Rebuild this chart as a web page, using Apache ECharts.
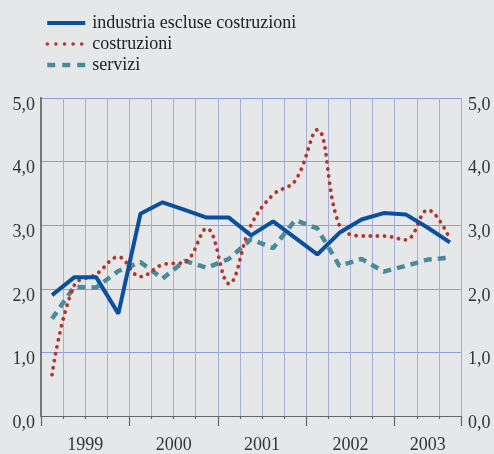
<!DOCTYPE html>
<html>
<head>
<meta charset="utf-8">
<script src="https://cdn.jsdelivr.net/npm/echarts@6/dist/echarts.min.js"></script>
<style>
html,body{margin:0;padding:0;background:#e6e7e8;}
#c{width:494px;height:454px;}
</style>
</head>
<body>
<div id="c"></div>
<script>
// Quarterly data, 1999 Q1 – 2003 Q3
const categories = ['1999 T1','1999 T2','1999 T3','1999 T4','2000 T1','2000 T2','2000 T3','2000 T4','2001 T1','2001 T2','2001 T3','2001 T4','2002 T1','2002 T2','2002 T3','2002 T4','2003 T1','2003 T2','2003 T3'];
const seriesNames = ['industria escluse costruzioni','costruzioni','servizi'];
const industria = [1.90, 2.18, 2.18, 1.61, 3.18, 3.36, 3.24, 3.12, 3.12, 2.84, 3.06, 2.80, 2.54, 2.88, 3.09, 3.19, 3.17, 2.96, 2.73];
const costruzioni = [0.65, 2.05, 2.23, 2.50, 2.19, 2.38, 2.42, 2.95, 2.08, 3.00, 3.48, 3.70, 4.50, 3.00, 2.83, 2.83, 2.77, 3.24, 2.78];
const servizi = [1.53, 2.03, 2.02, 2.28, 2.42, 2.16, 2.44, 2.33, 2.47, 2.78, 2.64, 3.08, 2.95, 2.36, 2.47, 2.27, 2.36, 2.46, 2.49];
const yearLabels = ['1999','2000','2001','2002','2003'];
const yearLabelPos = [2, 6, 10, 14, 17.5];

const FONT = '"Liberation Serif", "Times New Roman", serif';
const fmtY = v => v.toFixed(1).replace('.', ',');

const chart = echarts.init(document.getElementById('c'), null, {renderer: 'canvas'});
const hideSym = {opacity: 0, borderWidth: 0, color: 'rgba(0,0,0,0)', borderColor: 'rgba(0,0,0,0)'};
const option = {
  backgroundColor: '#e6e7e8',
  animation: false,
  legend: {
    orient: 'vertical',
    left: 40,
    top: 9,
    itemWidth: 38,
    itemHeight: 14,
    itemGap: 3,
    textStyle: {fontFamily: FONT, fontSize: 18, lineHeight: 18, color: '#222', padding: [0, 0, 0, 2]},
    data: [
      {name: seriesNames[0], itemStyle: hideSym, lineStyle: {width: 4, color: '#0b4f9f', type: 'solid'}},
      {name: seriesNames[1], itemStyle: hideSym, lineStyle: {width: 3.5, color: '#b5352d', type: [0.1, 8.5], cap: 'round'}},
      {name: seriesNames[2], itemStyle: hideSym, lineStyle: {width: 4.5, color: '#4a8b9b', type: [8, 7]}}
    ]
  },
  grid: {left: 41, right: 33, top: 98, bottom: 29, containLabel: false},
  xAxis: [
    {
      type: 'category', data: categories, boundaryGap: true, position: 'bottom', offset: 3,
      axisLine: {show: true, lineStyle: {color: '#666', width: 1.2}},
      axisTick: {show: true, interval: 0, length: 3, lineStyle: {color: '#666', width: 1.2}},
      axisLabel: {show: false},
      splitLine: {show: true, interval: 0, lineStyle: {color: '#a3afd9', width: 1}}
    },
    {
      type: 'value', min: 0, max: 19, interval: 0.5, position: 'bottom',
      axisLine: {show: false}, axisTick: {show: false}, splitLine: {show: false},
      axisLabel: {
        show: true, margin: 20, fontFamily: FONT, fontSize: 18, color: '#333',
        showMinLabel: true, showMaxLabel: false,
        formatter: v => { const i = yearLabelPos.indexOf(v); return i >= 0 ? yearLabels[i] : ''; }
      }
    },
    {
      type: 'value', min: 0, max: 19, interval: 4, position: 'bottom', offset: 3,
      axisLine: {show: false},
      axisTick: {show: true, length: 7, lineStyle: {color: '#666', width: 1.2}},
      axisLabel: {show: false}, splitLine: {show: false}
    }
  ],
  yAxis: [
    {
      type: 'value', min: 0, max: 5, interval: 1, position: 'left',
      axisLine: {show: true, lineStyle: {color: '#777', width: 2}},
      axisTick: {show: false},
      axisLabel: {margin: 6, fontFamily: FONT, fontSize: 18, color: '#333', formatter: fmtY, verticalAlign: 'top', lineHeight: 14},
      splitLine: {show: true, lineStyle: {color: '#8c9fd6', width: 1}}
    },
    {
      type: 'value', min: 0, max: 5, interval: 1, position: 'right',
      axisLine: {show: true, lineStyle: {color: '#777', width: 2}},
      axisTick: {show: false},
      axisLabel: {margin: 7, fontFamily: FONT, fontSize: 18, color: '#333', formatter: fmtY, verticalAlign: 'top', lineHeight: 14},
      splitLine: {show: false}
    }
  ],
  series: [
    {
      name: seriesNames[0], type: 'line', data: industria, xAxisIndex: 0, yAxisIndex: 0,
      symbol: 'none', lineStyle: {width: 4, color: '#0b4f9f'}, itemStyle: {color: '#0b4f9f'}, z: 4
    },
    {
      name: seriesNames[1], type: 'line', data: costruzioni, xAxisIndex: 0, yAxisIndex: 0,
      symbol: 'none', smooth: 0.4,
      lineStyle: {width: 3.8, color: '#b5352d', type: [0.1, 7], cap: 'round'}, itemStyle: {color: '#b5352d'}, z: 3
    },
    {
      name: seriesNames[2], type: 'line', data: servizi, xAxisIndex: 0, yAxisIndex: 0,
      symbol: 'none',
      lineStyle: {width: 4.5, color: '#4a8b9b', type: [8, 6]}, itemStyle: {color: '#4a8b9b'}, z: 2
    }
  ]
};
chart.setOption(option);
</script>
</body>
</html>
